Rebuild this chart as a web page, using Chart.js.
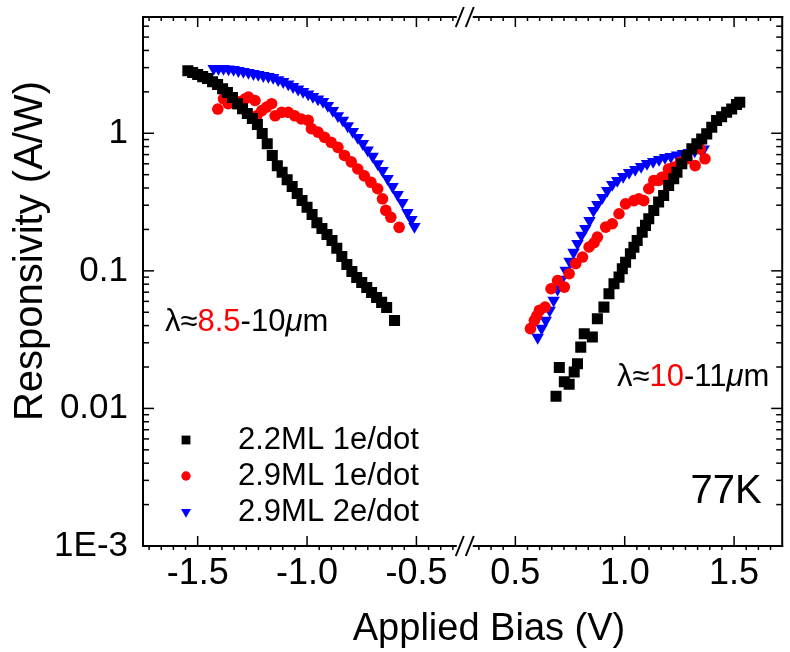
<!DOCTYPE html>
<html>
<head>
<meta charset="utf-8">
<script src="https://cdn.jsdelivr.net/npm/chart.js@4.4.1/dist/chart.umd.min.js"></script>
<style>
  html, body { margin: 0; padding: 0; background: #fff; }
  #wrap { position: relative; width: 790px; height: 652px; }
</style>
</head>
<body>
<div id="wrap"><canvas id="chart" width="790" height="652"></canvas></div>
<script>
// ---- data (bias in V, responsivity in A/W) ----
const seriesLabels = ['2.2ML 1e/dot', '2.9ML 1e/dot', '2.9ML 2e/dot'];

// 2.2ML 1e/dot, negative bias
const biasNeg22 = [-1.545,-1.523,-1.500,-1.477,-1.455,-1.432,-1.409,-1.386,-1.364,-1.341,-1.318,-1.295,-1.273,-1.250,
  -1.227,-1.205,-1.182,-1.159,-1.136,-1.114,-1.091,-1.068,-1.045,-1.023,-1.000,-0.977,-0.955,-0.932,-0.909,-0.886,
  -0.864,-0.841,-0.818,-0.795,-0.773,-0.750,-0.727,-0.705,-0.682,-0.659,-0.636,-0.600];
const respNeg22 = [2.85,2.76,2.67,2.58,2.50,2.37,2.26,2.11,1.98,1.82,1.64,1.51,1.39,1.28,
  1.16,0.995,0.84,0.69,0.58,0.52,0.46,0.41,0.365,0.325,0.29,0.257,0.224,0.203,0.184,0.166,
  0.146,0.127,0.111,0.099,0.0896,0.0824,0.0758,0.0697,0.0641,0.059,0.0542,0.0436];

// 2.2ML 1e/dot, positive bias
const biasPos22 = [0.686,0.701,0.724,0.746,0.769,0.784,0.799,0.815,0.852,0.875,0.905,0.928,0.951,0.974,0.989,1.004,
  1.026,1.042,1.057,1.080,1.095,1.110,1.133,1.155,1.178,1.201,1.224,1.239,1.261,1.284,1.307,1.330,1.352,1.375,
  1.398,1.420,1.443,1.466,1.489,1.511,1.526];
const respPos22 = [0.01225,0.0198,0.0156,0.015,0.0184,0.0211,0.0279,0.0349,0.033,0.0449,0.0545,0.0682,0.0806,0.09,0.1035,0.1156,
  0.133,0.1486,0.166,0.191,0.214,0.239,0.275,0.316,0.353,0.417,0.467,0.521,0.60,0.689,0.77,0.838,0.91,0.99,
  1.106,1.24,1.32,1.42,1.50,1.62,1.68];

// 2.9ML 1e/dot, negative bias
const biasNeg29a = [-1.408,-1.382,-1.360,-1.329,-1.305,-1.283,-1.268,-1.238,-1.230,-1.207,-1.185,-1.162,-1.146,-1.116,
  -1.086,-1.056,-1.026,-0.995,-0.980,-0.950,-0.920,-0.890,-0.859,-0.829,-0.798,-0.768,-0.738,-0.708,-0.677,-0.655,
  -0.640,-0.617,-0.579];
const respNeg29a = [1.50,1.78,1.64,1.64,1.70,1.78,1.83,1.73,1.34,1.46,1.55,1.64,1.34,1.42,
  1.42,1.34,1.27,1.24,1.08,1.02,0.935,0.86,0.79,0.69,0.62,0.55,0.49,0.44,0.395,0.334,
  0.275,0.245,0.207];

// 2.9ML 1e/dot, positive bias
const biasPos29a = [0.569,0.587,0.598,0.610,0.636,0.663,0.693,0.724,0.746,0.776,0.807,0.837,0.860,0.875,0.913,0.943,
  0.974,1.004,1.042,1.065,1.087,1.110,1.133,1.155,1.170,1.193,1.200,1.224,1.254,1.284,1.322,1.345,1.367];
const respPos29a = [0.038,0.0436,0.047,0.0516,0.0545,0.0741,0.0851,0.0762,0.0953,0.113,0.126,0.149,0.16,0.176,0.208,0.22,
  0.26,0.307,0.324,0.334,0.324,0.395,0.454,0.454,0.479,0.49,0.55,0.566,0.616,0.652,0.582,0.77,0.652];

// 2.9ML 2e/dot, negative bias
const biasNeg29b = [-1.427,-1.405,-1.382,-1.359,-1.336,-1.314,-1.291,-1.268,-1.245,-1.223,-1.200,-1.177,-1.155,-1.132,
  -1.109,-1.086,-1.064,-1.041,-1.018,-0.995,-0.973,-0.950,-0.927,-0.905,-0.882,-0.859,-0.836,-0.814,-0.791,-0.768,
  -0.745,-0.723,-0.700,-0.677,-0.655,-0.632,-0.609,-0.586,-0.564,-0.541,-0.523,-0.509];
const respNeg29b = [2.95,2.95,2.95,2.93,2.90,2.85,2.81,2.76,2.71,2.67,2.62,2.58,2.54,2.45,
  2.37,2.28,2.18,2.09,2.01,1.93,1.85,1.77,1.70,1.59,1.46,1.34,1.24,1.13,1.03,0.93,
  0.84,0.755,0.68,0.60,0.536,0.469,0.41,0.359,0.314,0.265,0.236,0.21];

// 2.9ML 2e/dot, positive bias
const biasPos29b = [0.602,0.620,0.639,0.657,0.675,0.693,0.711,0.730,0.748,0.766,0.784,0.802,0.820,0.839,0.857,0.875,
  0.898,0.920,0.943,0.966,0.993,1.020,1.048,1.075,1.102,1.130,1.157,1.184,1.211,1.239,1.266,1.293,1.320,1.348,1.361];
const respPos29b = [0.0328,0.0382,0.0436,0.0516,0.061,0.0733,0.0866,0.1007,0.117,0.136,0.158,0.181,0.203,0.232,0.2746,0.3035,
  0.341,0.3836,0.424,0.4534,0.4848,0.5184,0.545,0.573,0.6026,0.6228,0.6442,0.666,0.6773,0.6946,0.712,0.724,0.7426,0.7615,0.768];

// axes
const xLeftRange = [-1.75, -0.32];
const xRightRange = [0.31, 1.72];
const yRange = [0.001, 7];
const yTickValues = [0.001, 0.01, 0.1, 1];
const yTickLabels = ['1E-3', '0.01', '0.1', '1'];

// annotations
const noteLeft = [['λ≈', '#000'], ['8.5', '#ff0000'], ['-10', '#000'], ['μ', '#000', true], ['m', '#000']];
const noteRight = [['λ≈', '#000'], ['10', '#ff0000'], ['-11', '#000'], ['μ', '#000', true], ['m', '#000']];
const tempLabel = '77K';

const FONT = "'Liberation Sans', Arial, Helvetica, sans-serif";
Chart.defaults.font.family = FONT;
Chart.defaults.color = '#000';

const pts = (xs, ys) => xs.map((x, i) => ({ x, y: ys[i] }));

const STYLES = [
  { pointStyle: 'rect', pointRadius: 7.8, pointRotation: 0, color: '#000000' },
  { pointStyle: 'circle', pointRadius: 5.8, pointRotation: 0, color: '#ff0000' },
  { pointStyle: 'triangle', pointRadius: 7.2, pointRotation: 180, color: '#0000ff' },
];

function makeSet(i, xs, ys, axis) {
  const s = STYLES[i];
  return {
    label: seriesLabels[i], data: pts(xs, ys), xAxisID: axis, yAxisID: 'y',
    showLine: false, pointStyle: s.pointStyle, pointRadius: s.pointRadius, pointRotation: s.pointRotation,
    backgroundColor: s.color, borderColor: s.color, pointBorderWidth: 0, borderWidth: 0,
  };
}

function drawPieces(ctx, pieces, x, y, size) {
  pieces.forEach(([txt, col, ital]) => {
    ctx.font = (ital ? 'italic ' : '') + size + 'px ' + FONT;
    ctx.fillStyle = col;
    ctx.fillText(txt, x, y);
    x += ctx.measureText(txt).width;
  });
}

// split x axis: place the two x scales side by side with a break gap
const brokenAxis = {
  id: 'brokenAxis',
  afterLayout(chart) {
    const a = chart.chartArea, xL = chart.scales.xL, xR = chart.scales.xR;
    const gap = 18;
    const spanL = xL.max - xL.min, spanR = xR.max - xR.min;
    const k = (a.right - a.left - gap) / (spanL + spanR);
    xL.left = a.left; xL.right = a.left + spanL * k;
    xR.left = xL.right + gap; xR.right = a.right;
    xR.top = xL.top; xR.bottom = xL.bottom;
    [xL, xR].forEach(s => { s.width = s.right - s.left; s.height = xL.bottom - xL.top; s.configure(); });
  },
  afterDraw(chart) {
    const { ctx, chartArea: a, scales: { xL, xR, y } } = chart;
    const seg = (x1, y1, x2, y2) => { ctx.beginPath(); ctx.moveTo(x1, y1); ctx.lineTo(x2, y2); ctx.stroke(); };
    ctx.save();
    ctx.strokeStyle = '#000';
    ctx.lineCap = 'square';
    ctx.lineWidth = 2;
    // frame
    seg(a.left, a.top, a.left, a.bottom);
    seg(a.right, a.top, a.right, a.bottom);
    [a.top, a.bottom].forEach(py => { seg(xL.left, py, xL.right, py); seg(xR.left, py, xR.right, py); });
    ctx.lineCap = 'butt';
    ctx.lineWidth = 1.5;
    // x ticks: majors inward, minors small
    [xL, xR].forEach(s => {
      s.ticks.forEach(t => {
        const px = s.getPixelForValue(t.value);
        seg(px, a.bottom, px, a.bottom - 10); seg(px, a.top, px, a.top + 10);
      });
      const step = 0.5 / 9;
      for (let m = Math.floor(s.min / 0.5) * 0.5; m <= s.max; m += 0.5) {
        for (let j = 1; j < 9; j++) {
          const v = m + j * step;
          if (v < s.min || v > s.max) continue;
          const px = s.getPixelForValue(v);
          seg(px, a.bottom, px, a.bottom + 4); seg(px, a.top, px, a.top + 4);
        }
      }
    });
    // y ticks on both sides
    for (let d = -3; d <= 0; d++) {
      for (let m = 1; m <= 9; m++) {
        const v = m * Math.pow(10, d);
        if (v > y.max) break;
        const py = y.getPixelForValue(v);
        const len = m === 1 ? 11 : 6;
        seg(a.left, py, a.left + len, py);
        seg(a.right, py, a.right - len, py);
      }
    }
    // break marks
    ctx.lineWidth = 2;
    [xL.right + 4, xR.left - 4].forEach(px => [a.top, a.bottom].forEach(py => seg(px - 4, py + 10, px + 4, py - 10)));

    // axis titles
    ctx.fillStyle = '#000';
    ctx.textAlign = 'center';
    ctx.textBaseline = 'middle';
    ctx.font = '38px ' + FONT;
    ctx.fillText('Applied Bias (V)', 489, 630);
    ctx.save();
    ctx.translate(31, 251);
    ctx.rotate(-Math.PI / 2);
    ctx.font = '40px ' + FONT;
    ctx.fillText('Responsivity (A/W)', 0, 0);
    ctx.restore();

    // legend
    const legendY = [440, 476, 512];
    ctx.textAlign = 'left';
    STYLES.forEach((s, i) => {
      ctx.fillStyle = s.color;
      Chart.helpers.drawPoint(ctx, { pointStyle: s.pointStyle, rotation: s.pointRotation,
        radius: s.pointRadius * 0.8, borderWidth: 0 }, 186, legendY[i]);
      ctx.fillStyle = '#000';
      ctx.font = '31px ' + FONT;
      ctx.fillText(seriesLabels[i], 238, legendY[i]);
    });

    // notes
    ctx.textAlign = 'left';
    drawPieces(ctx, noteLeft, 165, 322, 31);
    drawPieces(ctx, noteRight, 617, 377, 31);
    ctx.fillStyle = '#000';
    ctx.font = '40px ' + FONT;
    ctx.textAlign = 'center';
    ctx.fillText(tempLabel, 726, 492);
    ctx.restore();
  }
};

const xScale = (range) => ({
  type: 'linear', position: 'bottom', min: range[0], max: range[1],
  grid: { display: false, drawTicks: false }, border: { display: false },
  ticks: { stepSize: 0.5, includeBounds: false, autoSkip: false, maxRotation: 0, padding: 6,
    font: { size: 36 }, color: '#000', callback: v => v.toFixed(1) },
});

const xL = xScale(xLeftRange);
xL.afterFit = s => { s.height = 106; s.paddingLeft = 0; s.paddingRight = 0; };
const xR = xScale(xRightRange);
xR.afterFit = s => { s.height = 0; s.paddingLeft = 0; s.paddingRight = 0; };

new Chart(document.getElementById('chart'), {
  type: 'scatter',
  data: {
    datasets: [
      makeSet(0, biasNeg22, respNeg22, 'xL'),
      makeSet(0, biasPos22, respPos22, 'xR'),
      makeSet(1, biasNeg29a, respNeg29a, 'xL'),
      makeSet(1, biasPos29a, respPos29a, 'xR'),
      makeSet(2, biasNeg29b, respNeg29b, 'xL'),
      makeSet(2, biasPos29b, respPos29b, 'xR'),
    ],
  },
  options: {
    responsive: false,
    devicePixelRatio: 1,
    animation: false,
    events: [],
    layout: { padding: { left: 0, right: 5, top: 17, bottom: 0 } },
    plugins: { legend: { display: false }, tooltip: { enabled: false } },
    scales: {
      xL, xR,
      y: {
        type: 'logarithmic', position: 'left', min: yRange[0], max: yRange[1],
        grid: { display: false, drawTicks: false }, border: { display: false },
        afterFit: s => { s.width = 143; s.paddingTop = 0; s.paddingBottom = 0; },
        ticks: {
          autoSkip: false, padding: 15, font: { size: 35 }, color: '#000',
          callback: v => {
            const i = yTickValues.findIndex(t => Math.abs(t - v) / t < 1e-6);
            return i >= 0 ? yTickLabels[i] : '';
          },
        },
      },
    },
  },
  plugins: [brokenAxis],
});
</script>
</body>
</html>
